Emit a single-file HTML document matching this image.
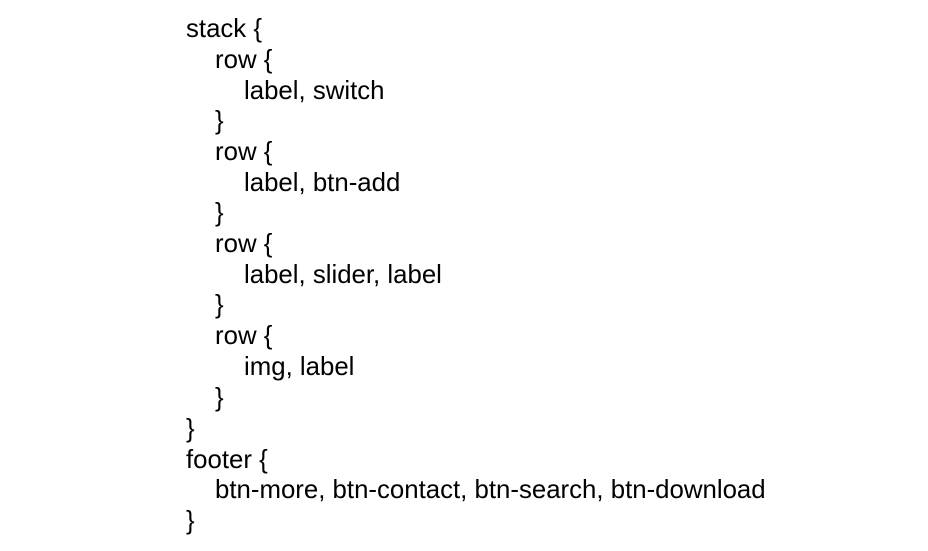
<!DOCTYPE html>
<html><head><meta charset="utf-8"><style>
html,body{margin:0;padding:0;background:#fff;width:928px;height:551px;overflow:hidden}
.l{position:absolute;font-family:"Liberation Sans",Arial,sans-serif;font-size:25.8px;line-height:30px;color:#000;white-space:pre;letter-spacing:0}
</style></head><body>
<div class="l" style="left:186px;top:14px">stack {</div>
<div class="l" style="left:215px;top:45px">row {</div>
<div class="l" style="left:244px;top:76px">label, switch</div>
<div class="l" style="left:215px;top:106px">}</div>
<div class="l" style="left:215px;top:137px">row {</div>
<div class="l" style="left:244px;top:168px">label, btn-add</div>
<div class="l" style="left:215px;top:198px">}</div>
<div class="l" style="left:215px;top:229px">row {</div>
<div class="l" style="left:244px;top:260px">label, slider, label</div>
<div class="l" style="left:215px;top:290px">}</div>
<div class="l" style="left:215px;top:321px">row {</div>
<div class="l" style="left:244px;top:352px">img, label</div>
<div class="l" style="left:215px;top:383px">}</div>
<div class="l" style="left:186px;top:414px">}</div>
<div class="l" style="left:186px;top:445px">footer {</div>
<div class="l" style="left:215px;top:475px">btn-more, btn-contact, btn-search, btn-download</div>
<div class="l" style="left:186px;top:506px">}</div>
</body></html>
